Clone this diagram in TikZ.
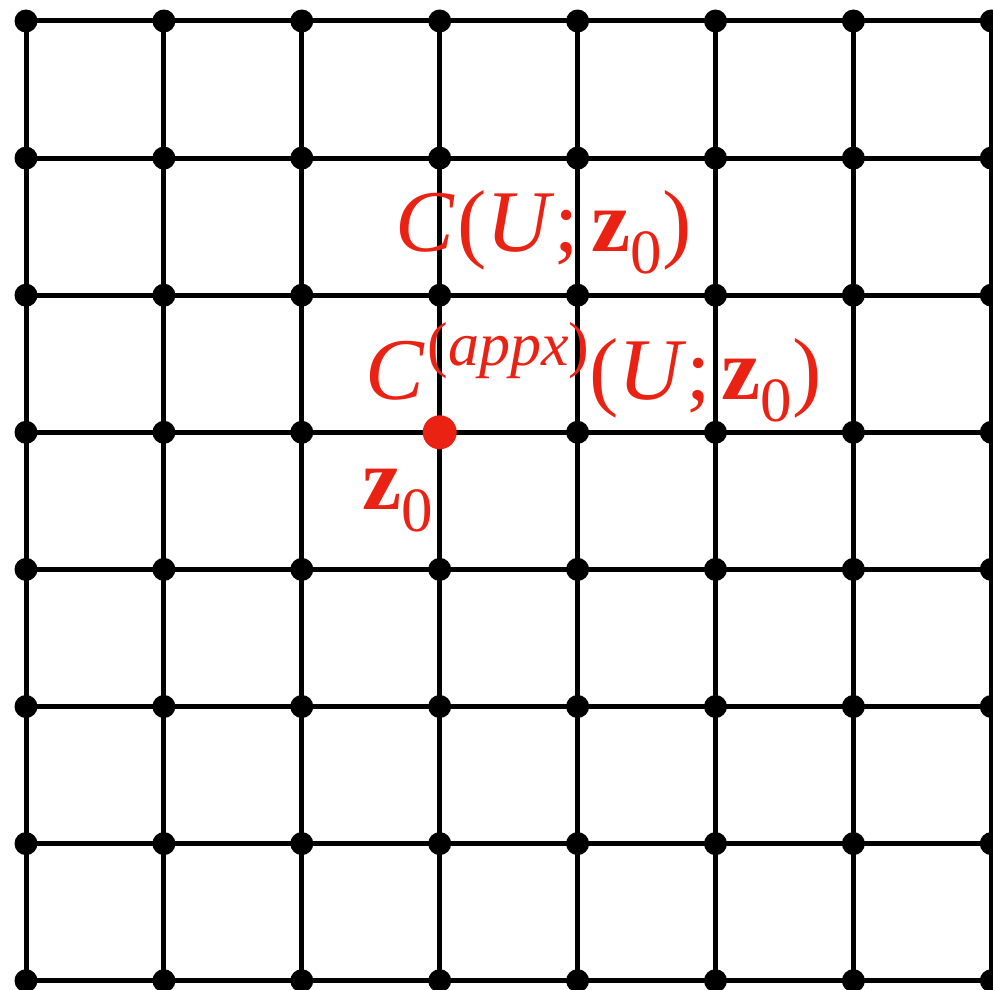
\documentclass[tikz,border=0pt]{standalone}
\usepackage{fontspec}
\setmainfont{Liberation Serif}
\definecolor{lblred}{RGB}{234,34,20}
\tikzset{
  gridline/.style={line width=5pt, black},
  gdot/.style={circle, fill=black, inner sep=0pt, minimum size=23pt},
  rdot/.style={circle, fill=lblred, inner sep=0pt, minimum size=34pt},
  lbl/.style={text=lblred, inner sep=0pt, anchor=base west, font=\fontsize{88}{88}\selectfont}
}
\newcommand{\bz}{\textbf{z}\raisebox{-0.25em}{\fontsize{63}{63}\selectfont 0}}
\begin{document}
\begin{tikzpicture}[x=1pt,y=-1pt]
\useasboundingbox (0,0) rectangle (993,990);
\foreach \i in {0,...,7}{
  \foreach \j in {0,...,7}{
    \coordinate (g-\i-\j) at ({26+137.9*\i},{21+137.1*\j});
  }
}
\foreach \k in {0,...,7}{
  \draw[gridline] (g-0-\k) -- (g-7-\k);
  \draw[gridline] (g-\k-0) -- (g-\k-7);
}
\foreach \i in {0,...,7}{
  \foreach \j in {0,...,7}{
    \ifnum\i=3 \ifnum\j=3 \else \node[gdot] (d-\i-\j) at (g-\i-\j) {}; \fi
    \else \node[gdot] (d-\i-\j) at (g-\i-\j) {}; \fi
  }
}
\node[lbl] (l1) at (395,251) {\textit{C}\kern0.03em(\textit{U};\kern0.14em\bz)};
\node[lbl] (l2) at (365,399) {\textit{C}\kern0.03em\raisebox{0.38em}{\fontsize{62}{62}\selectfont(\textit{appx})}(\textit{U};\kern0.12em\bz)};
\node[lbl] (l3) at (362,509) {\bz};
\node[rdot] (z0dot) at (g-3-3) {};
\end{tikzpicture}
\end{document}
